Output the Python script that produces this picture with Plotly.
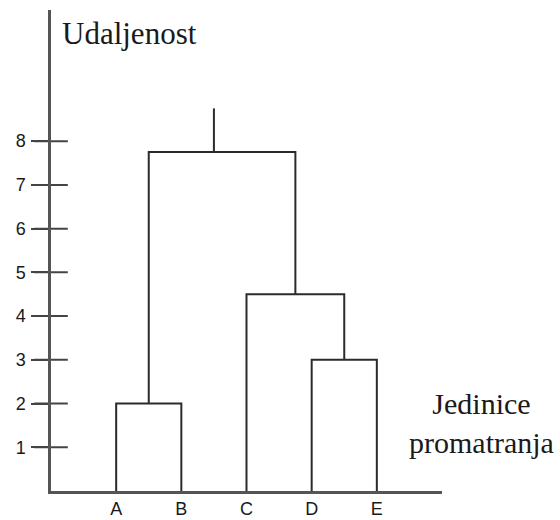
import plotly.graph_objects as go

# ---- data ----
leaves = ["A", "B", "C", "D", "E"]
leaf_pos = [1, 2, 3, 4, 5]
# merges: (left cluster, right cluster, height); clusters are leaf names or merge ids
merges = [
    ("A", "B", 2.0),        # m0
    ("D", "E", 3.0),        # m1
    ("C", "m1", 4.5),       # m2
    ("m0", "m2", 7.75),     # m3 (root)
]
root_stem_x = 2.5
root_stem_top = 8.75
y_ticks = [1, 2, 3, 4, 5, 6, 7, 8]

# ---- build dendrogram segments ----
pos = {n: (p, 0.0) for n, p in zip(leaves, leaf_pos)}
xs, ys = [], []
for i, (l, r, h) in enumerate(merges):
    xl, yl = pos[l]
    xr, yr = pos[r]
    xs += [xl, xl, xr, xr, None]
    ys += [yl, h, h, yr, None]
    pos["m%d" % i] = ((xl + xr) / 2, h)
_, root_h = pos["m%d" % (len(merges) - 1)]
xs += [root_stem_x, root_stem_x, None]
ys += [root_h, root_stem_top, None]

fig = go.Figure()
fig.add_trace(go.Scatter(x=xs, y=ys, mode="lines",
                         line=dict(color="#2b2b2b", width=2),
                         hoverinfo="skip", showlegend=False))
# crossing tick marks on y axis
fig.add_trace(go.Scatter(x=[0] * len(y_ticks), y=y_ticks, mode="markers",
                         marker=dict(symbol="line-ew", size=24,
                                     line=dict(color="#444", width=2)),
                         cliponaxis=False, hoverinfo="skip", showlegend=False))

fig.update_layout(
    width=560, height=520,
    margin=dict(l=51, r=118, t=10, b=29, autoexpand=False),
    paper_bgcolor="white", plot_bgcolor="white",
    showlegend=False,
    xaxis=dict(range=[0, 6], showgrid=False, zeroline=False, automargin=False,
               showline=True, linecolor="#555", linewidth=2.5,
               tickmode="array", tickvals=leaf_pos, ticktext=leaves,
               ticks="", ticklen=0, ticklabelstandoff=0,
               tickfont=dict(family="Liberation Sans, Arial", size=18, color="#1a1a1a")),
    yaxis=dict(range=[0, 11.0], showgrid=False, zeroline=False, automargin=False,
               showline=True, linecolor="#555", linewidth=2.5,
               tickmode="array", tickvals=y_ticks,
               ticks="outside", ticklen=17, tickwidth=2, tickcolor="#444",
               ticklabelstandoff=2,
               tickfont=dict(family="Liberation Sans, Arial", size=18, color="#1a1a1a")),
    annotations=[
        dict(text="Udaljenost", x=0.14, y=10.47, xref="x", yref="y",
             xanchor="left", yanchor="middle", showarrow=False,
             font=dict(family="Liberation Serif, Times New Roman", size=31, color="#1a1a1a")),
        dict(text="Jedinice<br>promatranja", x=1.102, y=0.141, xref="paper", yref="paper",
             xanchor="center", yanchor="middle", showarrow=False, align="center",
             font=dict(family="Liberation Serif, Times New Roman", size=30, color="#1a1a1a")),
    ],
)
fig.write_html("out.html", config={"displayModeBar": False},
               post_script="document.body.style.margin='0';")
